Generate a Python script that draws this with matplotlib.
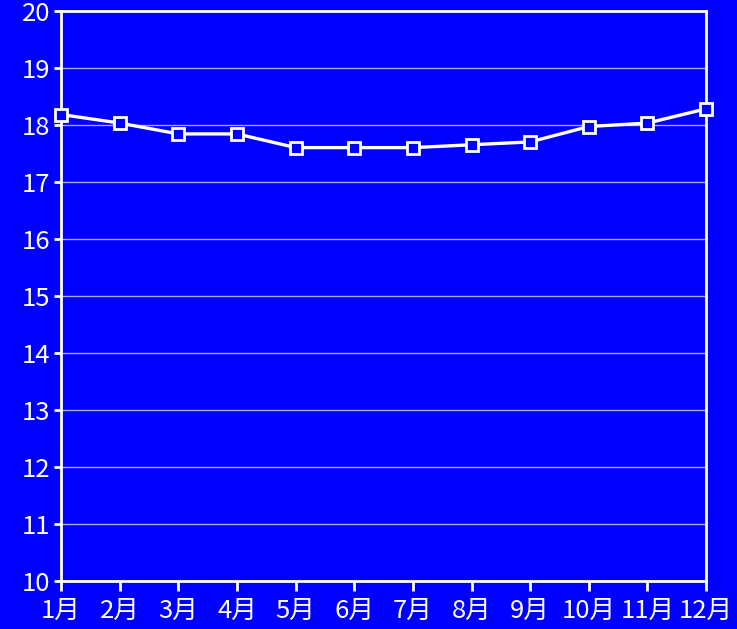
import matplotlib
matplotlib.use('Agg')
import matplotlib.pyplot as plt

plt.rcParams['font.family'] = ['Noto Sans CJK JP', 'DejaVu Sans']

meses = ['1月', '2月', '3月', '4月', '5月', '6月', '7月', '8月', '9月', '10月', '11月', '12月']
temperatura = [18.18, 18.03, 17.84, 17.84, 17.6, 17.6, 17.6, 17.65, 17.7, 17.97, 18.03, 18.28]

fondo = '#0000ff'
fig = plt.figure(figsize=(7.37, 6.29), dpi=100, facecolor=fondo)
ax = fig.add_axes([0.083, 0.076, 0.875, 0.907], facecolor=fondo)

x = list(range(len(meses)))
ax.plot(x, temperatura, color='white', lw=2.4, marker='s', markersize=8.5,
        markerfacecolor=fondo, markeredgecolor='white', markeredgewidth=2,
        zorder=3, clip_on=False)

ax.set_xlim(0, len(meses) - 1)
ax.set_ylim(10, 20)
ax.set_yticks(range(10, 21))
ax.set_xticks(x)
ax.set_xticklabels(meses)

ax.yaxis.grid(True, color='#a8a8ff', lw=1)
ax.set_axisbelow(True)

for s in ax.spines.values():
    s.set_color('white')
    s.set_linewidth(2)

ax.tick_params(axis='both', colors='white', labelsize=18.5, width=2)
ax.tick_params(axis='y', length=5, pad=3)
ax.tick_params(axis='x', length=7, pad=5)

fig.savefig('out.png', dpi=100, facecolor=fondo)
